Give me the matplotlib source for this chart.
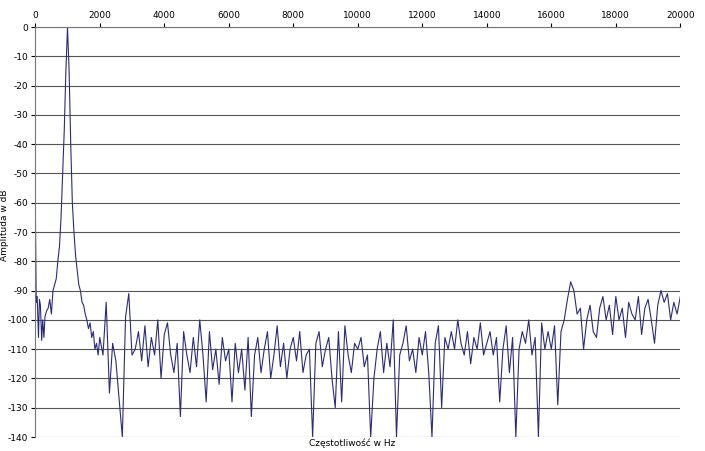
import numpy as np
import matplotlib.pyplot as plt

# spectrum near the 1 kHz tone (irregular frequency steps)
freq_peak = [0, 30, 60, 100, 130, 160, 200, 230, 270, 300, 350, 400, 450, 500, 550,
             600, 650, 700, 750, 800, 850, 900, 950, 1000, 1050, 1100, 1150, 1200,
             1250, 1300, 1350, 1400, 1450, 1500, 1550, 1600, 1650, 1700, 1750, 1800,
             1850, 1900, 1950]
db_peak = [-58, -94, -92, -106, -93, -95, -107, -100, -106, -99, -97, -96, -93, -98, -90,
           -88, -86, -80, -75, -65, -50, -35, -15, 0, -15, -40, -60, -70,
           -78, -83, -88, -90, -94, -95, -98, -100, -103, -101, -106, -104,
           -110, -108, -112]

# noise floor 2000..20000 Hz every 100 Hz
db_floor = [
    -106, -112, -94, -125, -108, -114, -127, -140, -99, -91,
    -112, -110, -104, -114, -102, -116, -106, -112, -100, -120,
    -105, -101, -112, -118, -108, -133, -104, -112, -118, -106,
    -116, -100, -112, -128, -104, -117, -110, -122, -106, -114,
    -110, -128, -108, -118, -110, -124, -106, -133, -112, -106,
    -118, -110, -104, -120, -112, -102, -116, -108, -120, -110,
    -106, -114, -104, -118, -112, -110, -140, -108, -104, -116,
    -110, -106, -120, -130, -104, -128, -102, -112, -118, -108,
    -110, -106, -116, -112, -140, -120, -110, -104, -118, -108,
    -116, -100, -140, -112, -108, -102, -114, -110, -118, -106,
    -112, -104, -118, -140, -108, -102, -130, -106, -110, -104,
    -110, -100, -108, -112, -104, -115, -106, -110, -101, -112,
    -108, -104, -112, -106, -128, -110, -102, -118, -106, -140,
    -110, -104, -108, -100, -112, -106, -140, -101, -110, -104,
    -110, -102, -129, -104, -100, -93, -87, -90, -98, -96,
    -110, -100, -95, -104, -106, -96, -92, -100, -95, -105,
    -92, -100, -96, -106, -94, -98, -100, -92, -105, -96,
    -93, -100, -108, -95, -90, -94, -91, -100, -94, -98,
    -92,
]
freq_floor = np.arange(2000, 20001, 100)

freq = np.concatenate([freq_peak, freq_floor])
db = np.concatenate([db_peak, db_floor])

plt.rcParams["axes.unicode_minus"] = False
fig = plt.figure(figsize=(7.05, 4.51), dpi=100)
ax = fig.add_axes([0.05, 0.031, 0.915, 0.909])
ax.plot(freq, db, color="#2b2b7c", lw=0.8)

ax.set_xlim(0, 20000)
ax.set_ylim(-140, 0)
ax.set_xticks(range(0, 20001, 2000))
ax.set_yticks(range(-140, 1, 10))
ax.xaxis.tick_top()
ax.tick_params(labelsize=6.5, length=3, pad=2)
ax.grid(axis="y", color="#555555", lw=0.8)
for s in ["right", "bottom"]:
    ax.spines[s].set_visible(False)
ax.spines["top"].set_color("#777777")
ax.spines["left"].set_color("#777777")

fig.text(0.007, 0.5, "Amplituda w dB", rotation=90, va="center", ha="center", fontsize=6.5)
fig.text(0.5, 0.018, "Częstotliwość w Hz", ha="center", va="center", fontsize=6.5)

fig.savefig("out.png", dpi=100)
